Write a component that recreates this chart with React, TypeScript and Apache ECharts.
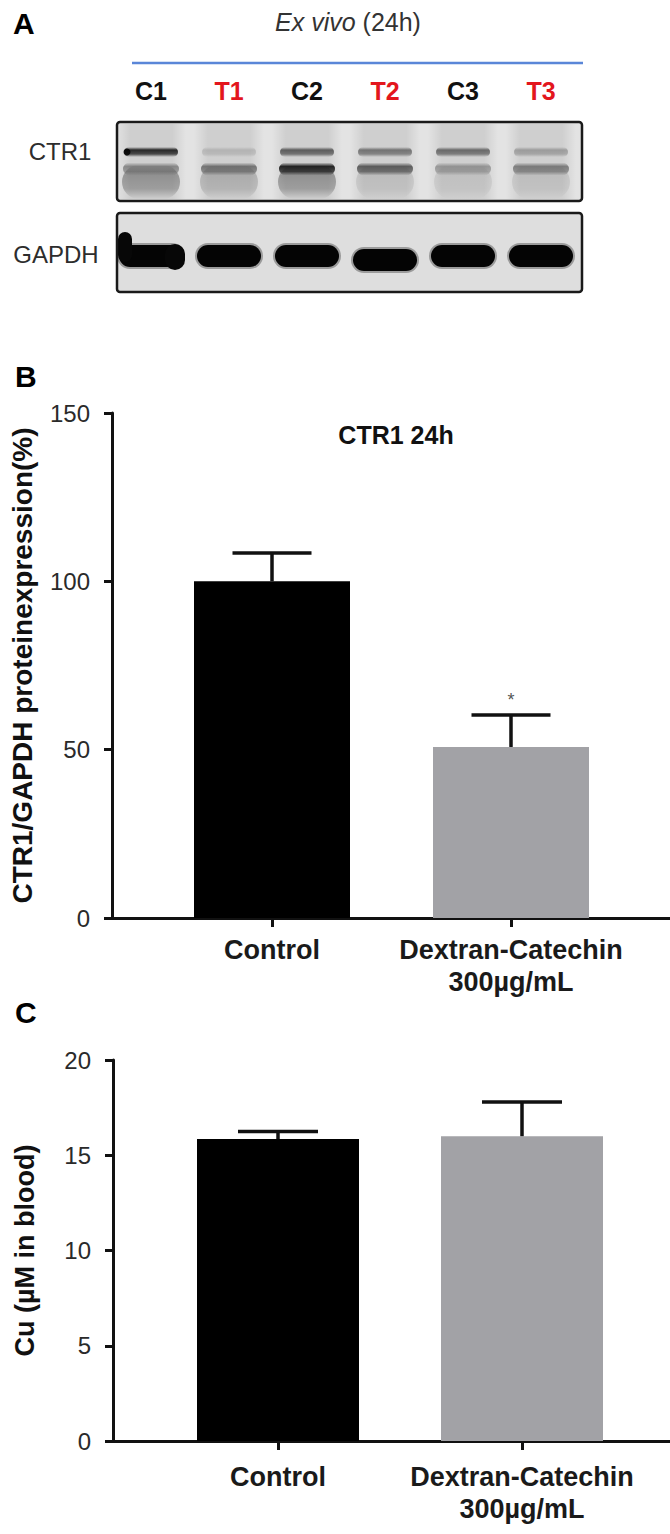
import React, { useEffect, useRef } from 'react';
import * as echarts from 'echarts';

// ---------- data ----------
const categories = ['Control', 'Dextran-Catechin\n300µg/mL'];
const barColors = ['#000000', '#a2a2a6'];

const ctr1Means = [100, 50.8];
const ctr1Sems = [8.4, 9.5];
const ctr1Significance = ['', '*'];
const ctr1Ticks = [0, 50, 100, 150];

const cuMeans = [15.85, 16.0];
const cuSems = [0.4, 1.8];
const cuTicks = [0, 5, 10, 15, 20];

const lanes = ['C1', 'T1', 'C2', 'T2', 'C3', 'T3'];
const laneIsTreated = [false, true, false, true, false, true];
const ctr1UpperBand = [0.9, 0.15, 0.62, 0.5, 0.55, 0.28];
const ctr1LowerBand = [0.4, 0.5, 0.92, 0.62, 0.32, 0.45];
const ctr1Smear = [0.5, 0.28, 0.5, 0.15, 0.12, 0.14];
const gapdhBand = [1, 1, 1, 1, 1, 1];

// ---------- style ----------
const FONT = "'Liberation Sans', Arial, Helvetica, sans-serif";
const AX = '#111111';
const font = (size: number, bold = false, italic = false) =>
  `${italic ? 'italic ' : ''}${bold ? 'bold ' : ''}${size}px ${FONT}`;

const laneX = (i: number) => 151 + 78 * i;

function hGrad(alpha: number) {
  return {
    type: 'linear', x: 0, y: 0, x2: 1, y2: 0,
    colorStops: [
      { offset: 0, color: 'rgba(0,0,0,0)' },
      { offset: 0.2, color: `rgba(0,0,0,${alpha})` },
      { offset: 0.8, color: `rgba(0,0,0,${alpha})` },
      { offset: 1, color: 'rgba(0,0,0,0)' },
    ],
  };
}
function vGrad(alpha: number) {
  return {
    type: 'linear', x: 0, y: 0, x2: 0, y2: 1,
    colorStops: [
      { offset: 0, color: 'rgba(0,0,0,0)' },
      { offset: 0.3, color: `rgba(0,0,0,${alpha})` },
      { offset: 0.7, color: `rgba(0,0,0,${alpha * 0.8})` },
      { offset: 1, color: 'rgba(0,0,0,0)' },
    ],
  };
}
function band(cx: number, cy: number, w: number, h: number, alpha: number) {
  return {
    type: 'rect',
    shape: { x: cx - w / 2, y: cy - h / 2, width: w, height: h, r: h / 2 },
    style: { fill: vGrad(alpha) },
  };
}
function label(text: string, x: number, y: number, f: string, fill: string, align = 'center') {
  return {
    type: 'text', x, y,
    style: { text, font: f, fill, align, textAlign: align, verticalAlign: 'middle', textVerticalAlign: 'middle' },
  };
}

function buildBlot() {
  const els: any[] = [];
  const top = { x: 117, y: 122, w: 465, h: 79 };
  const bot = { x: 117, y: 213, w: 465, h: 79 };
  // CTR1 membrane
  els.push({ type: 'rect', shape: { x: top.x, y: top.y, width: top.w, height: top.h, r: 3 }, style: { fill: '#e3e3e3' } });
  lanes.forEach((_, i) => {
    const cx = laneX(i);
    els.push({ type: 'rect', shape: { x: cx - 35, y: top.y + 2, width: 70, height: top.h - 4 }, style: { fill: hGrad(0.09) } });
    els.push(band(cx, 182, 58, 34, ctr1Smear[i] * 0.6));
    els.push(band(cx, 152, 54, 10, ctr1UpperBand[i] * 0.9));
    els.push(band(cx, 169, 56, 13, ctr1LowerBand[i] * 0.9));
  });
  els.push({ type: 'circle', shape: { cx: laneX(0) - 24, cy: 152, r: 3.5 }, style: { fill: 'rgba(0,0,0,0.85)' } });
  els.push({ type: 'rect', shape: { x: top.x, y: top.y, width: top.w, height: top.h, r: 3 }, style: { fill: 'none', stroke: '#1a1a1a', lineWidth: 2.5 } });

  // GAPDH membrane
  els.push({ type: 'rect', shape: { x: bot.x, y: bot.y, width: bot.w, height: bot.h, r: 3 }, style: { fill: '#dedede' } });
  lanes.forEach((_, i) => {
    const cx = laneX(i);
    const cy = i === 3 ? 260 : 256;
    const a = gapdhBand[i];
    els.push({ type: 'rect', shape: { x: cx - 34, y: cy - 13, width: 68, height: 26, r: 13 }, style: { fill: `rgba(0,0,0,${0.3 * a})` } });
    els.push({ type: 'rect', shape: { x: cx - 32, y: cy - 11, width: 64, height: 22, r: 11 }, style: { fill: `rgba(4,4,4,${a})` } });
  });
  els.push({ type: 'rect', shape: { x: laneX(0) - 33, y: 232, width: 14, height: 30, r: 7 }, style: { fill: '#070707' } });
  els.push({ type: 'rect', shape: { x: laneX(0) + 14, y: 244, width: 20, height: 26, r: 10 }, style: { fill: '#070707' } });
  els.push({ type: 'rect', shape: { x: bot.x, y: bot.y, width: bot.w, height: bot.h, r: 3 }, style: { fill: 'none', stroke: '#1a1a1a', lineWidth: 2.5 } });

  // header
  els.push({
    type: 'text', x: 348, y: 22,
    style: {
      text: '{i|Ex vivo}{n| (24h)}', align: 'center', textAlign: 'center', verticalAlign: 'middle', textVerticalAlign: 'middle',
      font: font(25), fill: '#333',
      rich: {
        i: { fontStyle: 'italic', fontSize: 25, fontFamily: FONT, fill: '#333' },
        n: { fontSize: 25, fontFamily: FONT, fill: '#333' },
      },
    },
  });
  els.push({ type: 'line', shape: { x1: 132, y1: 63, x2: 583, y2: 63 }, style: { stroke: '#5a86d8', lineWidth: 2.5 } });
  lanes.forEach((name, i) => {
    els.push(label(name, laneX(i), 91, font(25, true), laneIsTreated[i] ? '#e3161d' : '#111'));
  });
  els.push(label('CTR1', 60, 151, font(24), '#2d2d2d'));
  els.push(label('GAPDH', 56, 254, font(24), '#2d2d2d'));

  // panel letters and titles
  els.push(label('A', 13, 23, font(30, true), '#000', 'left'));
  els.push(label('B', 15, 376, font(30, true), '#000', 'left'));
  els.push(label('C', 15, 1012, font(30, true), '#000', 'left'));
  els.push(label('CTR1 24h', 396, 435, font(25, true), '#111'));
  return els;
}

function errorRenderer(half: number, marks?: string[]) {
  return (params: any, api: any) => {
    const x = api.value(0);
    const m = api.value(1);
    const s = api.value(2);
    const base = api.coord([x, m]);
    const top = api.coord([x, m + s]);
    const children: any[] = [
      { type: 'line', shape: { x1: base[0], y1: base[1], x2: top[0], y2: top[1] }, style: { stroke: AX, lineWidth: 3.5 } },
      { type: 'line', shape: { x1: top[0] - half, y1: top[1], x2: top[0] + half, y2: top[1] }, style: { stroke: AX, lineWidth: 3.5 } },
    ];
    const mark = marks ? marks[params.dataIndex] : '';
    if (mark) {
      children.push({
        type: 'text', x: top[0], y: top[1] - 15,
        style: { text: mark, font: font(18), fill: '#555', align: 'center', textAlign: 'center', verticalAlign: 'middle', textVerticalAlign: 'middle' },
      });
    }
    return { type: 'group', children };
  };
}

function xAxisFor(gridIndex: number, min: number, max: number, margin: number) {
  return {
    type: 'value', gridIndex, min, max,
    axisLine: { show: true, onZero: false, lineStyle: { color: AX, width: 3 } },
    axisTick: { show: true, customValues: [0, 1], length: 9, lineStyle: { color: AX, width: 3 } },
    axisLabel: {
      customValues: [0, 1],
      formatter: (v: number) => categories[Math.round(v)] ?? '',
      fontSize: 27, fontWeight: 'bold', fontFamily: FONT, color: '#1a1a1a', lineHeight: 32, margin,
    },
    splitLine: { show: false },
  };
}

function yAxisFor(gridIndex: number, ticks: number[], name: string, nameGap: number, nameSize: number) {
  return {
    type: 'value', gridIndex,
    min: ticks[0], max: ticks[ticks.length - 1], interval: ticks[1] - ticks[0],
    name, nameLocation: 'middle', nameGap, nameRotate: 90,
    nameTextStyle: { fontSize: nameSize, fontWeight: 'bold', fontFamily: FONT, color: '#111' },
    axisLine: { show: true, onZero: false, lineStyle: { color: AX, width: 3 } },
    axisTick: { show: true, length: 8, lineStyle: { color: AX, width: 3 } },
    axisLabel: { fontSize: 24, fontFamily: FONT, color: '#2a2a2a', margin: 22 },
    splitLine: { show: false },
  };
}

// axis ranges derived from layout: bar centres (px) and plot edges
const bPx = 239, bMin = -(272 - 112) / bPx, bMax = bMin + 558 / bPx;
const cPx = 244, cMin = -(278 - 113) / cPx, cMax = cMin + 557 / cPx;

const option: any = {
  animation: false,
  backgroundColor: '#ffffff',
  grid: [
    { left: 112, top: 413, width: 558, height: 505 },
    { left: 113, top: 1060, width: 557, height: 381 },
  ],
  xAxis: [xAxisFor(0, bMin, bMax, 16), xAxisFor(1, cMin, cMax, 20)],
  yAxis: [
    yAxisFor(0, ctr1Ticks, 'CTR1/GAPDH proteinexpression(%)', 76, 28),
    yAxisFor(1, cuTicks, 'Cu (µM in blood)', 75, 27),
  ],
  series: [
    {
      type: 'bar', xAxisIndex: 0, yAxisIndex: 0, barWidth: 156,
      data: ctr1Means.map((v, i) => ({ value: [i, v], itemStyle: { color: barColors[i] } })),
    },
    {
      type: 'custom', xAxisIndex: 0, yAxisIndex: 0, z: 5, clip: false,
      renderItem: errorRenderer(39.5, ctr1Significance),
      data: ctr1Means.map((v, i) => [i, v, ctr1Sems[i]]),
    },
    {
      type: 'bar', xAxisIndex: 1, yAxisIndex: 1, barWidth: 162,
      data: cuMeans.map((v, i) => ({ value: [i, v], itemStyle: { color: barColors[i] } })),
    },
    {
      type: 'custom', xAxisIndex: 1, yAxisIndex: 1, z: 5, clip: false,
      renderItem: errorRenderer(40),
      data: cuMeans.map((v, i) => [i, v, cuSems[i]]),
    },
  ],
  graphic: buildBlot(),
};

export default function App() {
  const ref = useRef<HTMLDivElement>(null);
  useEffect(() => {
    const chart = echarts.init(ref.current!, null, { renderer: 'svg' });
    chart.setOption(option);
    return () => chart.dispose();
  }, []);
  return (
    <div
      ref={ref}
      style={{ position: 'absolute', left: 0, top: 0, width: 670, height: 1534, background: '#fff' }}
    />
  );
}
